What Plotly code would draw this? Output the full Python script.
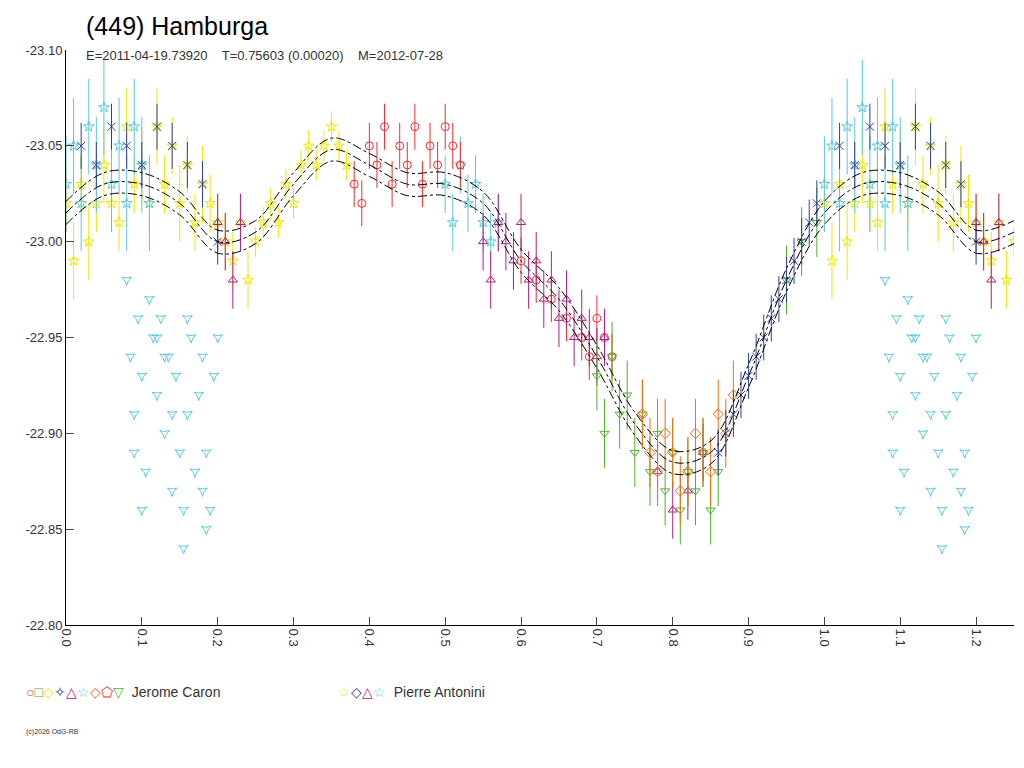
import plotly.graph_objects as go

# phase, magnitude, error
yellow_x = [0.00,0.01,0.02,0.03,0.04,0.05,0.06,0.07,0.08,0.09,0.10,0.11,0.12,0.13,0.14,0.15,0.16,0.17,0.18,0.19,0.20,0.21,0.22,0.23,0.24,0.25,0.26,0.27,0.28,0.29,0.30,0.31,0.32,0.33,0.34,0.35,0.36,0.37]
yellow_y = [-23.02,-22.99,-23.03,-23.00,-23.02,-23.04,-23.02,-23.01,-23.06,-23.03,-23.04,-23.02,-23.06,-23.03,-23.05,-23.02,-23.04,-23.01,-23.03,-23.02,-23.01,-23.00,-22.99,-23.01,-22.98,-23.00,-23.01,-23.02,-23.01,-23.03,-23.02,-23.04,-23.05,-23.04,-23.05,-23.06,-23.05,-23.04]
yellow_e = [0.015,0.02,0.015,0.02,0.015,0.02,0.015,0.015,0.02,0.015,0.02,0.015,0.02,0.015,0.015,0.02,0.015,0.015,0.02,0.015,0.015,0.015,0.015,0.015,0.015,0.008,0.008,0.008,0.008,0.008,0.008,0.008,0.008,0.008,0.008,0.008,0.008,0.008]

cyan_x = [0.00,0.01,0.02,0.03,0.04,0.05,0.06,0.07,0.08,0.09,0.10,0.11,0.50,0.51,0.52,0.53,0.54,0.55,0.56,0.57]
cyan_y = [-23.03,-23.05,-23.02,-23.06,-23.04,-23.07,-23.03,-23.05,-23.02,-23.06,-23.04,-23.02,-23.03,-23.01,-23.04,-23.02,-23.03,-23.01,-23.00,-23.01]
cyan_e = [0.025,0.025,0.025,0.025,0.025,0.025,0.025,0.025,0.025,0.025,0.025,0.025,0.015,0.015,0.015,0.015,0.015,0.015,0.015,0.015]

cyan_low_x = [0.08,0.085,0.09,0.095,0.10,0.105,0.11,0.115,0.12,0.125,0.13,0.135,0.14,0.145,0.15,0.155,0.16,0.165,0.17,0.175,0.18,0.185,0.19,0.195,0.20,0.09,0.12,0.14,0.16,0.18,0.10,0.13,0.155,0.185]
cyan_low_y = [-22.98,-22.94,-22.91,-22.96,-22.93,-22.88,-22.97,-22.95,-22.92,-22.96,-22.90,-22.94,-22.87,-22.93,-22.89,-22.86,-22.91,-22.95,-22.88,-22.92,-22.94,-22.89,-22.86,-22.93,-22.95,-22.89,-22.95,-22.91,-22.96,-22.87,-22.86,-22.94,-22.84,-22.85]

red_x = [0.38,0.39,0.40,0.41,0.42,0.43,0.44,0.45,0.46,0.47,0.48,0.49,0.50,0.51,0.52,0.60,0.62,0.64,0.66,0.68,0.69,0.70,0.71,0.72]
red_y = [-23.03,-23.02,-23.05,-23.04,-23.06,-23.03,-23.05,-23.04,-23.06,-23.03,-23.05,-23.04,-23.06,-23.05,-23.04,-22.99,-22.98,-22.97,-22.96,-22.95,-22.94,-22.96,-22.95,-22.94]
red_e = [0.012] * 24

purple_x = [0.20,0.21,0.22,0.23,0.55,0.56,0.57,0.58,0.59,0.60,0.61,0.62,0.63,0.64,0.65,0.66,0.67,0.68,0.69,0.70,0.71,0.78,0.80,0.82,0.84]
purple_y = [-23.01,-23.00,-22.98,-23.01,-23.00,-22.98,-23.01,-23.00,-22.99,-23.01,-22.98,-22.99,-22.97,-22.98,-22.96,-22.97,-22.95,-22.96,-22.95,-22.94,-22.95,-22.88,-22.86,-22.87,-22.89]
purple_e = [0.015] * 25

green_x = [0.70,0.71,0.72,0.73,0.74,0.75,0.76,0.77,0.78,0.79,0.80,0.81,0.82,0.83,0.84,0.85,0.86,0.95,0.97,0.99]
green_y = [-22.93,-22.90,-22.94,-22.91,-22.92,-22.89,-22.91,-22.88,-22.90,-22.87,-22.89,-22.86,-22.88,-22.87,-22.89,-22.86,-22.88,-22.98,-23.00,-23.01]
green_e = [0.018] * 20

orange_x = [0.76,0.77,0.78,0.79,0.80,0.81,0.82,0.83,0.84,0.85,0.86,0.87,0.88]
orange_y = [-22.91,-22.89,-22.88,-22.90,-22.89,-22.87,-22.88,-22.90,-22.89,-22.88,-22.91,-22.90,-22.92]
orange_e = [0.018] * 13

blue_x = [0.02,0.04,0.06,0.08,0.10,0.12,0.14,0.16,0.18,0.20,0.86,0.87,0.88,0.89,0.90,0.91,0.92,0.93,0.94,0.95,0.96,0.97,0.98,0.99]
blue_y = [-23.05,-23.04,-23.06,-23.05,-23.04,-23.06,-23.05,-23.04,-23.03,-23.00,-22.89,-22.90,-22.91,-22.92,-22.93,-22.94,-22.95,-22.96,-22.97,-22.98,-22.99,-23.00,-23.01,-23.02]
blue_e = [0.012] * 24

fit_x = [0.00,0.05,0.10,0.15,0.20,0.25,0.30,0.35,0.40,0.45,0.50,0.55,0.60,0.65,0.70,0.75,0.80,0.85,0.90,0.95,1.00]
fit_y = [-23.015,-23.03,-23.03,-23.02,-23.00,-23.005,-23.03,-23.048,-23.04,-23.03,-23.03,-23.02,-22.99,-22.97,-22.94,-22.905,-22.885,-22.89,-22.93,-22.98,-23.015]
fit_offset = [-0.006, 0.0, 0.006]

fig = go.Figure()


def wrap(xs, ys, es=None):
    # repeat the first quarter of the phase after 1.0
    ox, oy, oe = list(xs), list(ys), list(es) if es else None
    for i, x in enumerate(xs):
        if x <= 0.25:
            ox.append(x + 1)
            oy.append(ys[i])
            if es:
                oe.append(es[i])
    return ox, oy, oe


series = [
    (yellow_x, yellow_y, yellow_e, "#f2e600", "star-open"),
    (cyan_x, cyan_y, cyan_e, "#5bc8dc", "star-open"),
    (red_x, red_y, red_e, "#f03030", "circle-open"),
    (purple_x, purple_y, purple_e, "#b02080", "triangle-up-open"),
    (green_x, green_y, green_e, "#50b030", "triangle-down-open"),
    (orange_x, orange_y, orange_e, "#f07010", "diamond-open"),
    (blue_x, blue_y, blue_e, "#3040a0", "x-thin-open"),
]
for xs, ys, es, col, sym in series:
    x, y, e = wrap(xs, ys, es)
    fig.add_trace(go.Scatter(
        x=x, y=y, mode="markers",
        marker=dict(symbol=sym, size=8, color=col, line=dict(color=col, width=1)),
        error_y=dict(type="data", array=e, color=col, thickness=1, width=0),
    ))

x, y, _ = wrap(cyan_low_x, cyan_low_y)
fig.add_trace(go.Scatter(x=x, y=y, mode="markers",
                         marker=dict(symbol="star-triangle-down-open", size=7, color="#5bc8dc")))

for off in fit_offset:
    fx = fit_x + [v + 1 for v in fit_x[1:6]]
    fy = fit_y + fit_y[1:6]
    fy = [v + off for v in fy]
    fig.add_trace(go.Scatter(x=fx, y=fy, mode="lines", line_shape="spline",
                             line=dict(color="black", width=1, dash="dashdot")))

fig.update_layout(
    width=1024, height=768, showlegend=False,
    paper_bgcolor="white", plot_bgcolor="white",
    margin=dict(l=58, r=18, t=42, b=151, autoexpand=False),
    font=dict(family="Liberation Sans, Arial", size=13, color="#333"),
    xaxis=dict(range=[0, 1.25], tickvals=[0, 0.1, 0.2, 0.3, 0.4, 0.5, 0.6, 0.7, 0.8, 0.9, 1.0, 1.1, 1.2],
               ticktext=["0.0", "0.1", "0.2", "0.3", "0.4", "0.5", "0.6", "0.7", "0.8", "0.9", "1.0", "1.1", "1.2"],
               tickangle=90, showgrid=False, zeroline=False, showline=True, linecolor="black",
               ticks="inside", ticklen=8, automargin=False),
    yaxis=dict(range=[-22.80, -23.10], tickvals=[-23.10, -23.05, -23.00, -22.95, -22.90, -22.85, -22.80],
               ticktext=["-23.10", "-23.05", "-23.00", "-22.95", "-22.90", "-22.85", "-22.80"],
               showgrid=False, zeroline=False, showline=True, linecolor="black",
               ticks="inside", ticklen=8, automargin=False),
)

ann = [
    (76, 2, "(449) Hamburga", 25, "black"),
    (76, 38, "E=2011-04-19.73920    T=0.75603 (0.00020)    M=2012-07-28", 13, "#333"),
    (16, 674, "<span style='color:#f03030'>○</span><span style='color:#50b030'>□</span>"
              "<span style='color:#f2e600'>◇</span><span style='color:#3040a0'>✧</span>"
              "<span style='color:#b02080'>△</span><span style='color:#5bc8dc'>☆</span>"
              "<span style='color:#f07010'>◇</span><span style='color:#f03030'>⬠</span>"
              "<span style='color:#50b030'>▽</span>  Jerome Caron", 14, "#333"),
    (328, 674, "<span style='color:#f2e600'>☆</span><span style='color:#3040a0'>◇</span>"
               "<span style='color:#b02080'>△</span><span style='color:#5bc8dc'>☆</span>  Pierre Antonini", 14, "#333"),
    (16, 718, "(c)2026 OdG-RB", 7, "#333"),
]
for px_, py_, txt, sz, col in ann:
    fig.add_annotation(x=(px_ - 58) / 948, y=1 - (py_ - 42) / 575, xref="paper", yref="paper",
                       xanchor="left", yanchor="top", text=txt, showarrow=False,
                       font=dict(size=sz, color=col))

fig.write_html("out.html")
